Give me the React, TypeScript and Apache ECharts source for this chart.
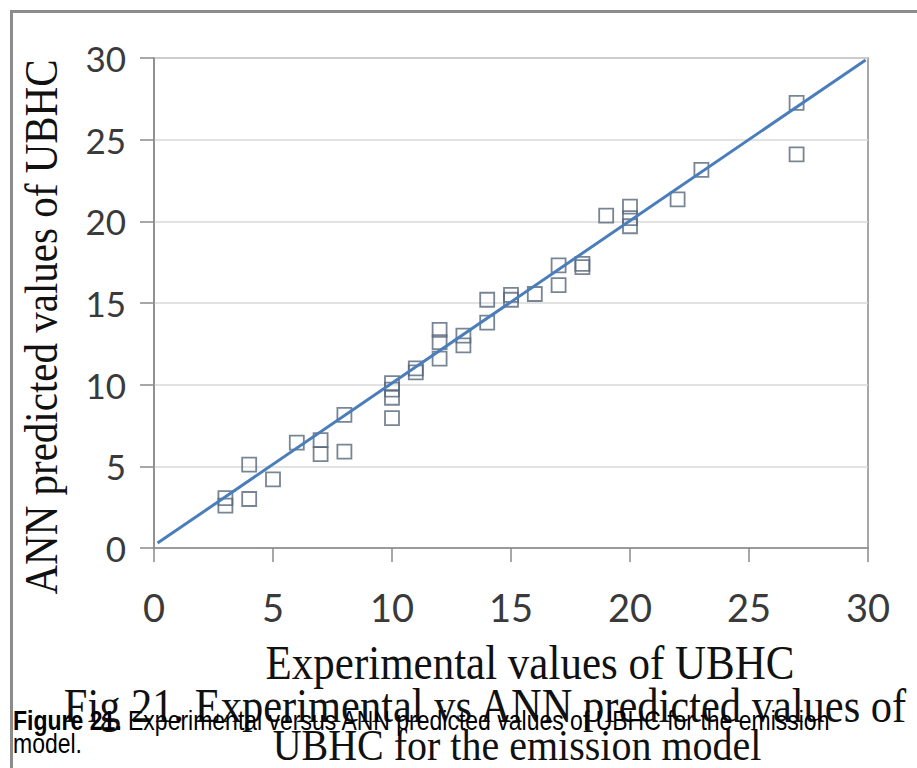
import React, { useEffect, useRef } from "react";
import * as echarts from "echarts";

const experimental = [3, 3, 4, 4, 5, 6, 7, 7, 8, 8, 10, 10, 10, 10, 11, 11, 12, 12, 12, 13, 13, 14, 14, 15, 15, 16, 17, 17, 18, 18, 19, 20, 20, 20, 22, 23, 27, 27];
const predicted = [3.05, 2.6, 5.1, 3.0, 4.2, 6.45, 6.6, 5.75, 8.15, 5.9, 10.1, 9.7, 9.2, 7.95, 11.0, 10.75, 13.35, 12.6, 11.6, 13.0, 12.4, 15.2, 13.8, 15.5, 15.2, 15.55, 17.3, 16.1, 17.4, 17.2, 20.35, 20.9, 20.2, 19.7, 21.35, 23.15, 27.25, 24.1];
const fitX = [0.15, 29.9];
const fitY = [0.3, 29.88];

const xTitle = "Experimental values of UBHC";
const yTitle = "ANN predicted values of UBHC";
const figLine1 = "Fig 21. Experimental vs ANN predicted values of";
const figLine2 = "UBHC for the emission model";
const capBold = "Figure 21.";
const capRest = " Experimental versus ANN predicted values of UBHC for the emission";
const capLine2 = "model.";

export default function App() {
  const ref = useRef<HTMLDivElement>(null);
  useEffect(() => {
    const chart = echarts.init(ref.current!, null, { renderer: "svg" });
    const serif = "'Liberation Serif', 'Times New Roman', serif";
    const sans = "'Liberation Sans', Arial, sans-serif";
    chart.setOption({
      animation: false,
      backgroundColor: "#ffffff",
      grid: {
        left: 154,
        top: 58,
        width: 714,
        height: 490,
        show: true,
        borderColor: "#8a8a8a",
        borderWidth: 1.5,
        backgroundColor: "transparent",
      },
      xAxis: {
        type: "value",
        min: 0,
        max: 30,
        interval: 5,
        axisLine: { show: true, onZero: false, lineStyle: { color: "#8a8a8a", width: 1.5 } },
        axisTick: { show: true, length: 14, lineStyle: { color: "#8a8a8a", width: 1.5 } },
        splitLine: { show: false },
        axisLabel: { fontSize: 38, color: "#3a3a3a", fontFamily: "Lato", margin: 40 },
      },
      yAxis: {
        type: "value",
        min: 0,
        max: 30,
        interval: 5,
        axisLine: { show: true, onZero: false, lineStyle: { color: "#8a8a8a", width: 1.5 } },
        axisTick: { show: true, length: 14, lineStyle: { color: "#8a8a8a", width: 1.5 } },
        splitLine: { show: true, lineStyle: { color: "#d9d9d9", width: 1.5 } },
        axisLabel: { fontSize: 35, color: "#3a3a3a", fontFamily: "Lato", margin: 28 },
      },
      series: [
        {
          type: "scatter",
          data: experimental.map((x, i) => [x, predicted[i]]),
          symbol: "rect",
          symbolSize: 14,
          itemStyle: { color: "rgba(255,255,255,0)", borderColor: "#56677a", borderWidth: 1.8 },
          z: 2,
        },
        {
          type: "line",
          data: fitX.map((x, i) => [x, fitY[i]]),
          symbol: "none",
          lineStyle: { color: "#4a7ebb", width: 3 },
          z: 3,
        },
      ],
      graphic: [
        {
          type: "rect",
          shape: { x: 11.5, y: 11.5, width: 1000, height: 1000 },
          style: { fill: "none", stroke: "#8c8c8c", lineWidth: 3 },
          silent: true,
        },
        {
          type: "text",
          x: 530,
          y: 662,
          scaleY: 1.15,
          style: { text: xTitle, font: `43px ${serif}`, fill: "#111", textAlign: "center", textVerticalAlign: "middle" },
        },
        {
          type: "text",
          x: 42,
          y: 327,
          rotation: Math.PI / 2,
          scaleY: 1.15,
          style: { text: yTitle, font: `41px ${serif}`, fill: "#111", textAlign: "center", textVerticalAlign: "middle" },
        },
        {
          type: "text",
          x: 485,
          y: 705,
          scaleY: 1.15,
          style: { text: figLine1, font: `42.5px ${serif}`, fill: "#111", textAlign: "center", textVerticalAlign: "middle" },
        },
        {
          type: "text",
          x: 517,
          y: 745,
          scaleY: 1.1,
          style: { text: figLine2, font: `40px ${serif}`, fill: "#111", textAlign: "center", textVerticalAlign: "middle" },
        },
        {
          type: "text",
          x: 13,
          y: 720,
          scaleY: 1.2,
          style: {
            text: `{b|${capBold}}${capRest}`,
            font: `23px ${sans}`,
            fill: "#000",
            textAlign: "left",
            textVerticalAlign: "middle",
            rich: { b: { fontWeight: "bold", fontSize: 23, fontFamily: sans, fill: "#000" } },
          },
        },
        {
          type: "text",
          x: 13,
          y: 743,
          scaleY: 1.2,
          style: { text: capLine2, font: `23px ${sans}`, fill: "#000", textAlign: "left", textVerticalAlign: "middle" },
        },
      ],
    });
    return () => chart.dispose();
  }, []);
  return (
    <div
      ref={ref}
      style={{ position: "fixed", left: 0, top: 0, width: 917, height: 768, background: "#fff" }}
    />
  );
}
